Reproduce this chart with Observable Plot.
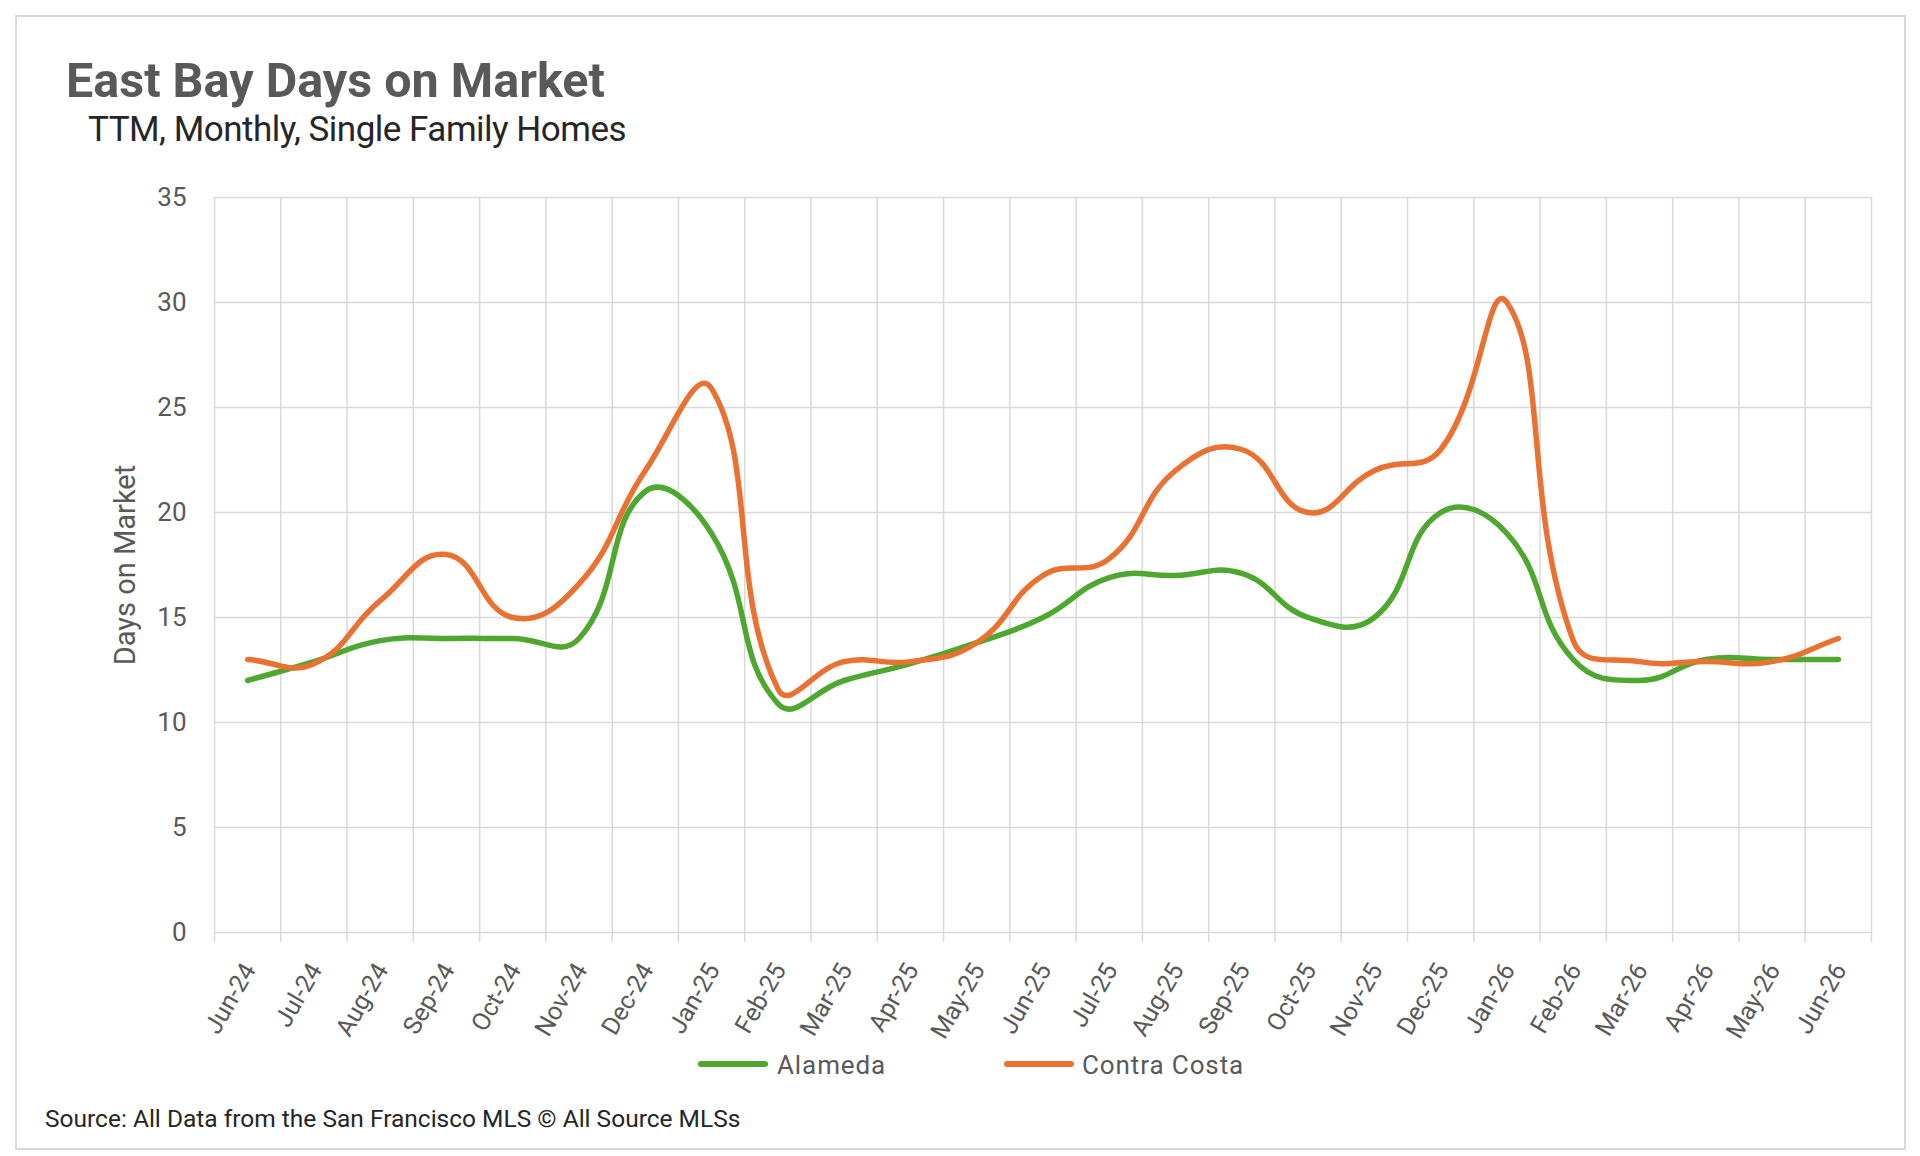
<!DOCTYPE html>
<html>
<head>
<meta charset="utf-8">
<script src="https://cdn.jsdelivr.net/npm/d3@7"></script>
<script src="https://cdn.jsdelivr.net/npm/@observablehq/plot@0.6"></script>
<style>
  html, body { margin: 0; padding: 0; background: #ffffff; }
  body { width: 1920px; height: 1156px; position: relative; overflow: hidden; font-family: Roboto, "Open Sans", sans-serif; }
  #frame { position: absolute; left: 15px; top: 15px; width: 1887px; height: 1131px; border: 2px solid #d9d9d9; box-sizing: content-box; }
  .txt { position: absolute; white-space: nowrap; line-height: 1; }
  #title { left: 66px; top: 57px; font-size: 48.5px; font-weight: 700; color: #595959; }
  #subtitle { left: 88px; top: 112px; font-size: 35px; color: #262626; letter-spacing: -0.5px; }
  #chart { position: absolute; left: 0; top: 150px; }
  #legend { position: absolute; left: 0; top: 1052px; width: 1920px; height: 30px; }
  .sw { position: absolute; height: 6px; border-radius: 3px; top: 9px; }
  .lg { position: absolute; top: 0; font-size: 26px; color: #595959; line-height: 1; letter-spacing: 0.9px; }
  #footer { left: 45px; top: 1107px; font-size: 24.5px; color: #262626; }
</style>
</head>
<body>
<div id="frame"></div>
<div id="title" class="txt">East Bay Days on Market</div>
<div id="subtitle" class="txt">TTM, Monthly, Single Family Homes</div>
<div id="chart"></div>
<div id="legend"></div>
<div id="footer" class="txt">Source: All Data from the San Francisco MLS © All Source MLSs</div>
<script>
const months = ["Jun-24","Jul-24","Aug-24","Sep-24","Oct-24","Nov-24","Dec-24","Jan-25","Feb-25","Mar-25","Apr-25","May-25","Jun-25","Jul-25","Aug-25","Sep-25","Oct-25","Nov-25","Dec-25","Jan-26","Feb-26","Mar-26","Apr-26","May-26","Jun-26"];
const alameda = [12.0, 12.9, 13.9, 14.0, 14.0, 14.0, 21.0, 19.0, 10.9, 12.0, 12.8, 13.8, 15.0, 16.9, 17.0, 17.1, 15.0, 15.0, 20.0, 19.0, 13.0, 12.0, 13.0, 13.0, 13.0];
const contraCosta = [13.0, 12.8, 15.8, 18.0, 15.0, 16.6, 22.0, 25.9, 11.6, 12.9, 12.9, 13.8, 17.0, 17.8, 22.0, 23.0, 20.0, 22.0, 23.0, 30.0, 13.9, 12.9, 12.9, 12.9, 14.0];
const yTicks = [0, 5, 10, 15, 20, 25, 30, 35];
const seriesNames = ["Alameda", "Contra Costa"];
const seriesColors = ["#4EA72E", "#E97132"];
const yLabel = "Days on Market";

// Spreadsheet-style smoothed line: cubic Bezier with chord-weighted tangents
function smoothCurve(context) {
  const t = 0.45;
  let pts = [];
  return {
    areaStart() {}, areaEnd() {},
    lineStart() { pts = []; },
    point(x, y) { pts.push([+x, +y]); },
    lineEnd() {
      const n = pts.length;
      if (!n) return;
      const dist = (a, b) => Math.hypot(b[0] - a[0], b[1] - a[1]);
      context.moveTo(pts[0][0], pts[0][1]);
      for (let i = 0; i < n - 1; i++) {
        const p1 = pts[i], p2 = pts[i + 1];
        const p0 = i > 0 ? pts[i - 1] : p1;
        const p3 = i < n - 2 ? pts[i + 2] : p2;
        const d01 = dist(p0, p1), d12 = dist(p1, p2), d23 = dist(p2, p3);
        const f1 = d01 + d12 > 0 ? t * d12 / (d01 + d12) : 0;
        const f2 = d12 + d23 > 0 ? t * d12 / (d12 + d23) : 0;
        const c1 = [p1[0] + (p2[0] - p0[0]) * f1, p1[1] + (p2[1] - p0[1]) * f1];
        const c2 = [p2[0] - (p3[0] - p1[0]) * f2, p2[1] - (p3[1] - p1[1]) * f2];
        context.bezierCurveTo(c1[0], c1[1], c2[0], c2[1], p2[0], p2[1]);
      }
    }
  };
}

const bounds = d3.range(months.length + 1).map(i => i - 0.5);
const grid = "#d9d9d9";
const textColor = "#595959";

const plot = Plot.plot({
  width: 1920,
  height: 900,
  marginLeft: 214,
  marginRight: 49,
  marginTop: 47,
  marginBottom: 118,
  style: { fontFamily: "Roboto, 'Open Sans', sans-serif", background: "transparent" },
  x: { type: "linear", domain: [-0.5, months.length - 0.5] },
  y: { domain: [0, 35] },
  marks: [
    Plot.gridY(yTicks, { stroke: grid, strokeOpacity: 1, strokeWidth: 1.5 }),
    Plot.gridX(bounds, { stroke: grid, strokeOpacity: 1, strokeWidth: 1.5 }),
    Plot.axisX(bounds, { tickSize: 10, tickFormat: () => "", stroke: grid, strokeWidth: 1.5, label: null }),
    Plot.axisY(yTicks, { tickSize: 0, tickPadding: 28, fontSize: 26, fill: textColor, label: null }),
    Plot.text(months, { x: (d, i) => i, frameAnchor: "bottom", text: d => d, rotate: -60, textAnchor: "end", lineAnchor: "middle", dx: 2, dy: 33, fontSize: 25, fill: textColor }),
    Plot.text([yLabel], { frameAnchor: "left", rotate: -90, textAnchor: "middle", dx: -89, fontSize: 29, fill: textColor, style: "letter-spacing: 0.5px" }),
    Plot.line(alameda, { x: (d, i) => i, y: d => d, curve: smoothCurve, stroke: seriesColors[0], strokeWidth: 5.5 }),
    Plot.line(contraCosta, { x: (d, i) => i, y: d => d, curve: smoothCurve, stroke: seriesColors[1], strokeWidth: 5.5 })
  ]
});
document.getElementById("chart").appendChild(plot);

const legend = document.getElementById("legend");
const legendPos = [[698, 777], [1004, 1082]];
seriesNames.forEach((name, k) => {
  const sw = document.createElement("div");
  sw.className = "sw";
  sw.style.left = legendPos[k][0] + "px";
  sw.style.width = "70px";
  sw.style.background = seriesColors[k];
  legend.appendChild(sw);
  const t = document.createElement("div");
  t.className = "lg";
  t.style.left = legendPos[k][1] + "px";
  t.textContent = name;
  legend.appendChild(t);
});
</script>
</body>
</html>
